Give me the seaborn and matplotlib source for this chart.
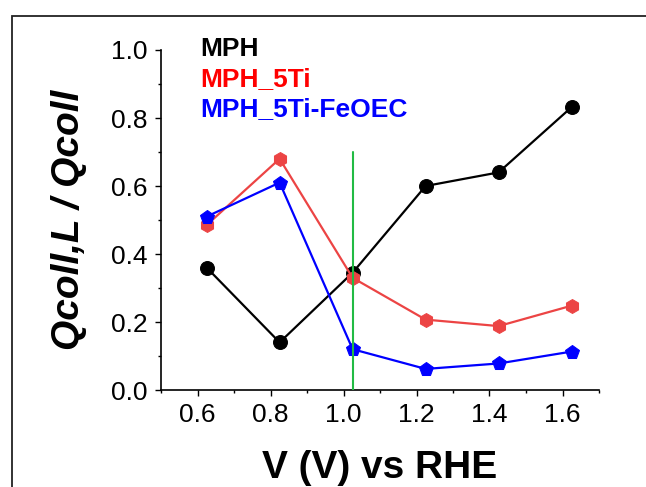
import numpy as np
import pandas as pd
import matplotlib
matplotlib.use("Agg")
import matplotlib.pyplot as plt
from matplotlib.patches import Rectangle
from matplotlib.ticker import MultipleLocator, FormatStrFormatter
import seaborn as sns

# potentials (V vs RHE) and collection ratios
potential = [0.625, 0.825, 1.025, 1.225, 1.425, 1.625]
mph = [0.36, 0.14, 0.345, 0.60, 0.64, 0.832]
mph_5ti = [0.485, 0.68, 0.33, 0.207, 0.188, 0.248]
mph_5ti_feoec = [0.51, 0.61, 0.12, 0.062, 0.078, 0.113]
series_names = ["MPH", "MPH_5Ti", "MPH_5Ti-FeOEC"]
marker_shapes = ["o", "h", "p"]
line_colors = ["black", "#ec4444", "#0000ff"]
label_colors = ["black", "#ff0000", "#0000ff"]
vline_x = 1.025
vline_top = 0.70

sns.set_style("ticks")
plt.rcParams["font.family"] = ["Liberation Sans", "DejaVu Sans"]
plt.rcParams.update({"text.color": "black", "axes.labelcolor": "black",
                     "xtick.color": "black", "ytick.color": "black",
                     "axes.edgecolor": "black"})

df = pd.DataFrame({
    "V": potential * 3,
    "ratio": mph + mph_5ti + mph_5ti_feoec,
    "sample": np.repeat(series_names, len(potential)),
})

fig = plt.figure(figsize=(6.46, 4.87), dpi=100)
ax = fig.add_axes([161 / 646, 1 - 390 / 487, 438 / 646, 340 / 487])

for name, mk, col in zip(series_names, marker_shapes, line_colors):
    sub = df[df["sample"] == name]
    sns.lineplot(data=sub, x="V", y="ratio", ax=ax, color=col, marker=mk,
                 markersize=10, markeredgecolor=col, linewidth=1.6,
                 legend=False)

ax.plot([vline_x, vline_x], [0, vline_top], color="#22bb44", lw=1.5, zorder=5)

ax.set_xlim(0.5, 1.7)
ax.set_ylim(0, 1.0)
ax.set_xticks([0.6, 0.8, 1.0, 1.2, 1.4, 1.6])
ax.xaxis.set_minor_locator(MultipleLocator(0.1))
ax.yaxis.set_major_locator(MultipleLocator(0.2))
ax.yaxis.set_minor_locator(MultipleLocator(0.1))
ax.tick_params(which="major", length=4.5, width=1, labelsize=19, pad=5)
ax.tick_params(which="minor", length=2.5, width=1)
ax.xaxis.set_major_formatter(FormatStrFormatter("%.1f"))
ax.yaxis.set_major_formatter(FormatStrFormatter("%.1f"))
sns.despine(ax=ax)
for sp in ["left", "bottom"]:
    ax.spines[sp].set_linewidth(1.2)

ax.set_xlabel("V (V) vs RHE", fontsize=28, fontweight="bold")
ax.set_ylabel("Qcoll,L / Qcoll", fontsize=28, fontweight="bold", style="italic")
ax.xaxis.set_label_coords(0.5, -0.175)
ax.yaxis.set_label_coords(-0.17, 0.5)

for i, (name, col) in enumerate(zip(series_names, label_colors)):
    ax.text(0.089, 1.003 - i * 0.089, name, color=col, fontsize=19,
            fontweight="bold", va="center", ha="left", transform=ax.transAxes)

fig.patches.append(Rectangle((12 / 646, -0.5), 2, 0.5 + 1 - 16 / 487,
                             transform=fig.transFigure, fill=False,
                             lw=1.3, edgecolor="#222222"))

fig.savefig("out.png", dpi=100)
